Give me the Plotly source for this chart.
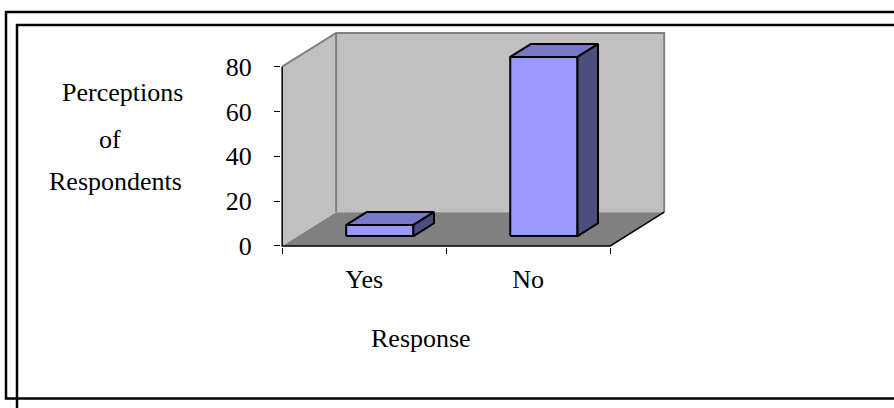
import plotly.graph_objects as go

# ---- data ----
categories = ["Yes", "No"]
values = [5, 80]
y_ticks = [0, 20, 40, 60, 80]
y_title_lines = ["Perceptions", "of", "Respondents"]
x_title = "Response"

# ---- style / geometry ----
FONT = "Liberation Serif"
FS = 26
W, H = 894, 408
ML, MR, MT, MB = 281, 228, 32, 161
XR = [-0.507, 1.84]
YR = [-0.5, 95.5]
DX, DY = 0.329, 15.06          # oblique depth of the floor / walls
BAR_W = 0.41
BAR_OFF = 0.29                  # bar position inside the depth
BAR_DEPTH = 0.38
YMAX = max(y_ticks)

FRONT_C, TOP_C, SIDE_C = "#9999FF", "#7878C9", "#4D4D80"
WALL_C, FLOOR_C, EDGE_C = "#C0C0C0", "#808080", "#808080"

pw = W - ML - MR
ph = H - MT - MB


def px(x):
    return (x - ML) / pw


def py(y):
    return (H - MB - y) / ph


fig = go.Figure()

x0, x1 = -0.5, len(categories) - 0.5


def poly(xs, ys, fill, line_color=None, lw=0):
    fig.add_trace(go.Scatter(
        x=xs + [xs[0]], y=ys + [ys[0]], mode="lines", fill="toself",
        fillcolor=fill, line=dict(color=line_color or fill, width=lw),
        hoverinfo="skip", showlegend=False))


# left wall
poly([x0, x0, x0 + DX, x0 + DX], [0, YMAX, YMAX + DY, DY], WALL_C)
# back wall
poly([x0 + DX, x1 + DX, x1 + DX, x0 + DX], [DY, DY, YMAX + DY, YMAX + DY], WALL_C)
# floor
poly([x0, x1, x1 + DX, x0 + DX], [0, 0, DY, DY], FLOOR_C)

# wall edges
fig.add_trace(go.Scatter(
    x=[x0, x0 + DX, x1 + DX, x1 + DX, None, x0 + DX, x0 + DX],
    y=[YMAX, YMAX + DY, YMAX + DY, DY, None, DY, YMAX + DY],
    mode="lines", line=dict(color=EDGE_C, width=2),
    hoverinfo="skip", showlegend=False))
# floor front/right edges and value axis line
fig.add_trace(go.Scatter(
    x=[x0, x0, x1, x1 + DX],
    y=[YMAX, 0, 0, DY],
    mode="lines", line=dict(color="black", width=1.5),
    hoverinfo="skip", showlegend=False))

# bars
ox, oy = BAR_OFF * DX, BAR_OFF * DY
bx, by = BAR_DEPTH * DX, BAR_DEPTH * DY
for i, v in enumerate(values):
    xl = i - BAR_W / 2 + ox
    xr = i + BAR_W / 2 + ox
    yb, yt = oy, oy + v
    poly([xl, xr, xr, xl], [yb, yb, yt, yt], FRONT_C, "black", 2)
    poly([xl, xr, xr + bx, xl + bx], [yt, yt, yt + by, yt + by], TOP_C, "black", 2)
    poly([xr, xr + bx, xr + bx, xr], [yb, yb + by, yt + by, yt], SIDE_C, "black", 2)

fig.update_layout(
    width=W, height=H,
    margin=dict(l=ML, r=MR, t=MT, b=MB, pad=0),
    paper_bgcolor="white", plot_bgcolor="white",
    font=dict(family=FONT, size=FS, color="black"),
    showlegend=False,
    xaxis=dict(
        range=XR, showgrid=False, zeroline=False, showline=False,
        tickmode="array", tickvals=list(range(len(categories))), ticktext=categories,
        ticks="", ticklabelstandoff=14,
        minor=dict(tickmode="array", tickvals=[x0 + k for k in range(len(categories) + 1)],
                   ticks="outside", ticklen=6, tickcolor="black", tickwidth=1, showgrid=False),
        fixedrange=True,
    ),
    yaxis=dict(
        range=YR, showgrid=False, zeroline=False, showline=False,
        tickmode="array", tickvals=y_ticks, ticks="outside", ticklen=6,
        tickcolor="black", tickwidth=1, ticklabelstandoff=17,
        fixedrange=True,
    ),
)

# axis titles
title_pos = [(122, 92.5), (110, 139), (115, 181)]
for txt, (cx, cy) in zip(y_title_lines, title_pos):
    fig.add_annotation(text=txt, x=px(cx), y=py(cy), xref="paper", yref="paper",
                       showarrow=False, xanchor="center", yanchor="middle",
                       font=dict(family=FONT, size=FS, color="black"))
fig.add_annotation(text=x_title, x=px(420.5), y=py(338), xref="paper", yref="paper",
                   showarrow=False, xanchor="center", yanchor="middle",
                   font=dict(family=FONT, size=FS, color="black"))

# page frame (double border)
frame = dict(color="black", width=2.5)
fig.add_shape(type="path", xref="paper", yref="paper",
              path=f"M {px(900)} {py(12)} L {px(6)} {py(12)} L {px(6)} {py(398.5)} L {px(900)} {py(398.5)}",
              line=frame)
fig.add_shape(type="path", xref="paper", yref="paper",
              path=f"M {px(900)} {py(25)} L {px(17)} {py(25)} L {px(17)} {py(410)}",
              line=frame)

fig.write_html("out.html")
